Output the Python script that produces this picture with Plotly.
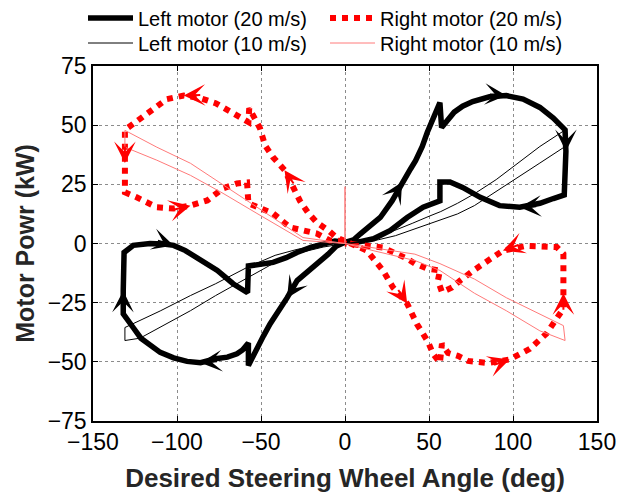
import math
import plotly.graph_objects as go

# Steering sweep: desired steering wheel angle (deg) vs. motor power (kW)

# Left motor, 20 m/s (upper-right lobe, then lower-left lobe)
left20_angle = [
    0, 5, 9, 15, 21, 28, 34, 39, 42, 46, 49, 52, 54.5, 56.5, 57.5, 61, 65, 70, 76, 86,
    96, 106, 116, 124, 131, 131.5, 131, 130.5, 124, 116, 104, 92, 80.5, 70, 62.5, 56.5,
    56.5, 46.5, 37, 27, 17, 7, 0,
    -5, -10, -17, -23, -28.5, -34.5, -39.5, -44.6, -48.5, -52.5, -55.5, -57.5, -57.5,
    -61, -64.3, -70, -77, -86, -94, -102, -110, -116, -121.5, -126, -132, -132, -131.5,
    -126, -116, -108, -102, -95, -88, -76, -66.6, -58, -57.5, -50, -42.8, -35, -28.6,
    -20, -13, -6, 0,
]
left20_power = [
    0.5, 1.5, 4, 7.5, 11, 18, 26, 31.5, 35, 41, 47, 52, 56, 59.5, 49, 52.5, 55.5, 58, 60, 62,
    62.5, 61, 57.5, 53, 48, 39, 30, 20.5, 19, 17, 15.3, 16, 19.5, 23.7, 26, 26,
    18, 15.3, 11, 5.5, 2, 0.5, 0.5,
    -1, -4.5, -8.5, -12, -15.7, -23, -28, -34, -39, -44.5, -48.5, -51.5, -42,
    -45, -46.6, -48, -48.7, -50.4, -49.8, -48.3, -46, -43.2, -40, -35.6, -29.7, -20, -3.8,
    -0.8, 0, -0.2, -0.8, -3, -5.9, -11.4, -17, -20.8, -9.5, -9, -8, -6, -3.8,
    -1.5, 0, 1, 0.5,
]
left20_arrows = [6, 20, 25, 30, 48, 60, 68, 73]

# Right motor, 20 m/s (upper-left lobe, then lower-right lobe)
right20_angle = [
    0, -5, -9, -17, -22, -26.8, -31, -36, -42.8, -47.6, -50.6, -53.5, -57, -57.5, -60.5,
    -63.7, -69.6, -77, -86, -96, -106, -116, -124, -131, -131, -131, -131, -124, -112,
    -102, -92, -82, -72.6, -64.3, -58.3, -57.5, -49.4, -42.8, -32.7, -16.7, -9, 0,
    5, 13, 22.6, 28.6, 37, 42.8, 49.4, 52.4, 56.5, 57.7, 61.3, 67.2, 73.2, 85, 98, 110,
    120, 126, 130, 130, 130, 130, 126, 120, 108, 94, 85, 76, 68.5, 63.7, 57.7, 55.3,
    56.5, 48.8, 41.6, 37, 22.6, 10, 0,
]
right20_power = [
    1, 2.5, 5, 9, 13, 18, 24, 31, 36.4, 41.5, 48.7, 53, 57.2, 51.3, 52.5,
    54.2, 56.4, 59.3, 61.4, 62.5, 61, 56, 52, 48, 41, 34, 21.6, 19.5, 15.3,
    14.8, 16, 18.2, 23.3, 25.4, 25.8, 17, 14.8, 12.7, 6.8, 4.2, 1.3, 1,
    -0.5, -3, -11.4, -18.6, -25.4, -34, -41.5, -46.6, -50.4, -42.4, -46.2, -47.5, -49.6,
    -50.5, -49, -44.5, -38, -32, -27.5, -21, -12, -4.4, -1.5, -1.2, -1, -3, -7, -11.6,
    -15.7, -18.6, -20.5, -15.7, -11.4, -10.6, -8.5, -6.4, -1.7, -0.5, 0,
]
right20_arrows = [7, 19, 25, 30, 46, 56, 61, 67]

# Left motor, 10 m/s
left10_angle = [
    0, 10, 20, 30, 40, 50, 57, 67, 77, 90, 100, 116, 130, 130, 116, 100, 90, 77, 67, 57,
    50, 40, 30, 20, 10, 0,
    -13, -28.6, -41.6, -58, -77, -92, -110, -131, -131, -122, -110, -92, -77, -58, -41.6,
    -28.6, -13, 0,
]
left10_power = [
    0, 0.8, 2.8, 5.5, 8.5, 11.5, 13.5, 17, 21, 27, 32.5, 41, 47.5, 40.5, 34, 26.5, 22, 16,
    12.5, 10, 8, 5.5, 3.3, 1.6, 0.5, 0,
    -0.5, -2.5, -5, -10, -17, -22, -28.5, -35.5, -41, -40, -35.5, -28.4, -22, -14.5, -8,
    -4.2, -1.5, 0,
]

# Right motor, 10 m/s
right10_angle = [
    0, 0, 0,
    -25, -52.4, -72.6, -92, -112, -131, -131, -112, -92, -72.6, -52.4, -25, 0,
    16.7, 41.6, 56.5, 77, 96, 116, 130, 131, 116, 96, 77, 56.5, 41.6, 16.7, 0,
]
right10_power = [
    0, 24, 0,
    2.5, 15.3, 24.6, 33.9, 40.7, 47.8, 40.7, 35.2, 28.8, 21.2, 12.7, 1.3, 0,
    -1.7, -4.5, -8.5, -15, -22.9, -29.7, -34.7, -41, -36.9, -28.4, -21, -11.4, -7.2, -3, 0,
]

X_RANGE = (-150, 150)
Y_RANGE = (-75, 75)
MARGIN = dict(l=93, r=33, t=66, b=72, autoexpand=False)
W, H = 630, 493
PLOT_W = W - MARGIN["l"] - MARGIN["r"]
PLOT_H = H - MARGIN["t"] - MARGIN["b"]
PX_X = PLOT_W / (X_RANGE[1] - X_RANGE[0])
PX_Y = PLOT_H / (Y_RANGE[1] - Y_RANGE[0])

FONT = "Liberation Sans, Arial, sans-serif"

fig = go.Figure()
fig.add_trace(go.Scatter(x=left20_angle, y=left20_power, mode="lines",
                         name="Left motor (20 m/s)", legend="legend",
                         line=dict(color="black", width=5.5)))
fig.add_trace(go.Scatter(x=right20_angle, y=right20_power, mode="lines",
                         name="Right motor (20 m/s)", legend="legend2",
                         line=dict(color="#ff0000", width=6, dash="6px,6px")))
fig.add_trace(go.Scatter(x=left10_angle, y=left10_power, mode="lines",
                         name="Left motor (10 m/s)", legend="legend3",
                         line=dict(color="black", width=1)))
fig.add_trace(go.Scatter(x=right10_angle, y=right10_power, mode="lines",
                         name="Right motor (10 m/s)", legend="legend4",
                         line=dict(color="#ff7a7a", width=1)))


def direction_arrows(xs, ys, idx_list, color):
    """Arrowheads placed on curve points, oriented along the local direction."""
    out = []
    for i in idx_list:
        dx = (xs[i + 1] - xs[i - 1]) * PX_X
        dy = -(ys[i + 1] - ys[i - 1]) * PX_Y
        n = math.hypot(dx, dy) or 1.0
        ux, uy = dx / n, dy / n
        out.append(dict(
            x=xs[i], y=ys[i], xref="x", yref="y",
            ax=-ux * 18, ay=-uy * 18, axref="pixel", ayref="pixel",
            showarrow=True, arrowhead=3, arrowsize=1.8, arrowwidth=2,
            arrowcolor=color, standoff=0, text="",
        ))
    return out


annotations = (direction_arrows(left20_angle, left20_power, left20_arrows, "black")
               + direction_arrows(right20_angle, right20_power, right20_arrows, "#ff0000"))

axis_common = dict(
    showline=True, linecolor="black", linewidth=1.5, mirror="ticks",
    ticks="inside", ticklen=5, tickcolor="black", tickwidth=1,
    showgrid=True, gridcolor="#8c8c8c", griddash="dot", gridwidth=1,
    zeroline=False, automargin=False,
    tickfont=dict(family=FONT, size=23, color="black"),
)


def legend_box(px_left, px_mid_y):
    # single-entry legend anchored by its left edge and vertical centre (pixels)
    return dict(
        x=(px_left - MARGIN["l"]) / PLOT_W, xanchor="left",
        y=1 + (MARGIN["t"] - px_mid_y) / PLOT_H, yanchor="middle",
        orientation="v", itemwidth=45,
        font=dict(family=FONT, size=20, color="black"),
        bgcolor="rgba(0,0,0,0)",
    )


fig.update_layout(
    width=W, height=H, margin=MARGIN,
    paper_bgcolor="white", plot_bgcolor="white",
    font=dict(family=FONT, color="black"),
    xaxis=dict(range=list(X_RANGE), tickvals=[-150, -100, -50, 0, 50, 100, 150],
               title=dict(text="Desired Steering Wheel Angle (deg)",
                          font=dict(family=FONT, size=26, weight="bold", color="#262626"),
                          standoff=14),
               **axis_common),
    yaxis=dict(range=list(Y_RANGE), tickvals=[-75, -50, -25, 0, 25, 50, 75],
               title=dict(text="Motor Powr (kW)",
                          font=dict(family=FONT, size=25, weight="bold", color="#262626"),
                          standoff=6),
               **axis_common),
    legend=legend_box(83, 18),
    legend2=legend_box(325, 18),
    legend3=legend_box(83, 43),
    legend4=legend_box(325, 43),
    annotations=annotations,
    showlegend=True,
)

fig.write_html("out.html")
